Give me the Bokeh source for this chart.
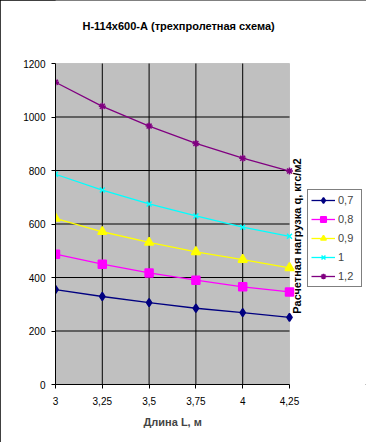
import math
from bokeh.plotting import figure
from bokeh.models import (Range1d, FixedTicker, Legend, LegendItem, Label,
                          BoxAnnotation, Title)
from bokeh.embed import file_html
from bokeh.resources import INLINE

# ---- data ----
lengths = [3.0, 3.25, 3.5, 3.75, 4.0, 4.25]
x_tick_labels = ["3", "3,25", "3,5", "3,75", "4", "4,25"]
y_ticks = [0, 200, 400, 600, 800, 1000, 1200]

series_names = ["0,7", "0,8", "0,9", "1", "1,2"]
q_07 = [355, 329, 306, 285, 269, 251]
q_08 = [487, 450, 417, 390, 365, 346]
q_09 = [621, 571, 531, 496, 467, 436]
q_10 = [786, 727, 675, 630, 588, 554]
q_12 = [1130, 1040, 966, 901, 846, 798]

title_text = "Н-114х600-А (трехпролетная схема)"
x_title = "Длина L, м"
y_title = "Расчетная нагрузка q, кгс/м2"

colors = ["#000080", "#FF00FF", "#FFFF00", "#00FFFF", "#800080"]
markers = ["diamond", "square", "triangle", "x", "asterisk"]
msizes = [8, 8, 9, 7, 7]
series = [q_07, q_08, q_09, q_10, q_12]

FONT = "Liberation Sans"

# layout geometry (pixels)
W, H = 366, 442
PLOT_L, PLOT_R, PLOT_T, PLOT_B = 55, 289, 63, 384
x0, x1 = lengths[0], lengths[-1]
y0, y1 = y_ticks[0], y_ticks[-1]
px_per_x = (PLOT_R - PLOT_L) / (x1 - x0)
px_per_y = (PLOT_B - PLOT_T) / (y1 - y0)
x_end = x0 + (W - PLOT_L) / px_per_x
y_end = y0 + PLOT_B / px_per_y

p = figure(width=W, height=H, output_backend="svg", toolbar_location=None,
           x_range=Range1d(x0, x_end), y_range=Range1d(y0, y_end),
           min_border_left=PLOT_L, min_border_right=0, min_border_top=0,
           min_border_bottom=H - PLOT_B)
p.styles = {"outline": "1px solid black", "outline-offset": "-1px"}

p.background_fill_color = "white"
p.border_fill_color = "white"
p.outline_line_color = None
p.xgrid.visible = False
p.ygrid.visible = False

# grey plot area with grey top/right edge
p.add_layout(BoxAnnotation(left=x0, right=x1, bottom=y0, top=y1,
                           fill_color="#C0C0C0", fill_alpha=1,
                           line_color="#808080", line_width=1, level="image"))

# black grid lines
p.segment(x0=lengths[1:-1], y0=[y0] * (len(lengths) - 2),
          x1=lengths[1:-1], y1=[y1] * (len(lengths) - 2),
          line_color="black", line_width=1, level="underlay")
p.segment(x0=[x0] * (len(y_ticks) - 2), y0=y_ticks[1:-1],
          x1=[x1] * (len(y_ticks) - 2), y1=y_ticks[1:-1],
          line_color="black", line_width=1, level="underlay")

# axes
p.xaxis.ticker = FixedTicker(ticks=lengths)
p.xaxis.major_label_overrides = {v: s for v, s in zip(lengths, x_tick_labels)}
p.xaxis.bounds = (x0, x1)
p.yaxis.ticker = FixedTicker(ticks=y_ticks)
p.yaxis.bounds = (y0, y1)
for ax in (p.xaxis[0], p.yaxis[0]):
    ax.axis_line_color = "black"
    ax.major_tick_line_color = "black"
    ax.major_tick_out = 4
    ax.major_tick_in = 0
    ax.minor_tick_line_color = None
    ax.major_label_text_font = FONT
    ax.major_label_text_font_size = "10px"
    ax.major_label_text_color = "black"
p.xaxis.major_label_standoff = 8
p.yaxis.major_label_standoff = 6

# x-axis title under the plot area
xt = Title(text=x_title, align="left", offset=88, standoff=12,
           text_font=FONT, text_font_size="11px", text_font_style="bold")
p.add_layout(xt, "below")

# chart title
p.add_layout(Label(x=x0, y=y1, x_offset=27, y_offset=38, text=title_text,
                   text_align="left", text_baseline="middle",
                   text_font=FONT, text_font_size="11px",
                   text_font_style="bold", text_color="black"))

# vertical value-axis title to the right of the plot area
p.add_layout(Label(x=x1, y=(y0 + y1) / 2, x_offset=7, y_offset=-12,
                   text=y_title, angle=math.pi / 2,
                   text_align="center", text_baseline="middle",
                   text_font=FONT, text_font_size="11px",
                   text_font_style="bold", text_color="black"))

items = []
for name, ys, c, m, s in zip(series_names, series, colors, markers, msizes):
    ln = p.line(lengths, ys, line_color=c, line_width=1.3)
    sc = p.scatter(lengths, ys, marker=m, size=s, fill_color=c, line_color=c,
                   line_width=1.5)
    items.append(LegendItem(label=name, renderers=[ln, sc]))

legend = Legend(items=items, location=(252, 97))
legend.label_text_font = FONT
legend.label_text_font_size = "11px"
legend.glyph_width = 24
legend.glyph_height = 14
legend.label_standoff = 3
legend.spacing = 5
legend.padding = 3
legend.margin = 0
legend.border_line_color = "black"
legend.border_line_width = 1
legend.background_fill_color = "white"
legend.background_fill_alpha = 1
p.add_layout(legend, "center")

open("out.html", "w").write(file_html(p, INLINE))
